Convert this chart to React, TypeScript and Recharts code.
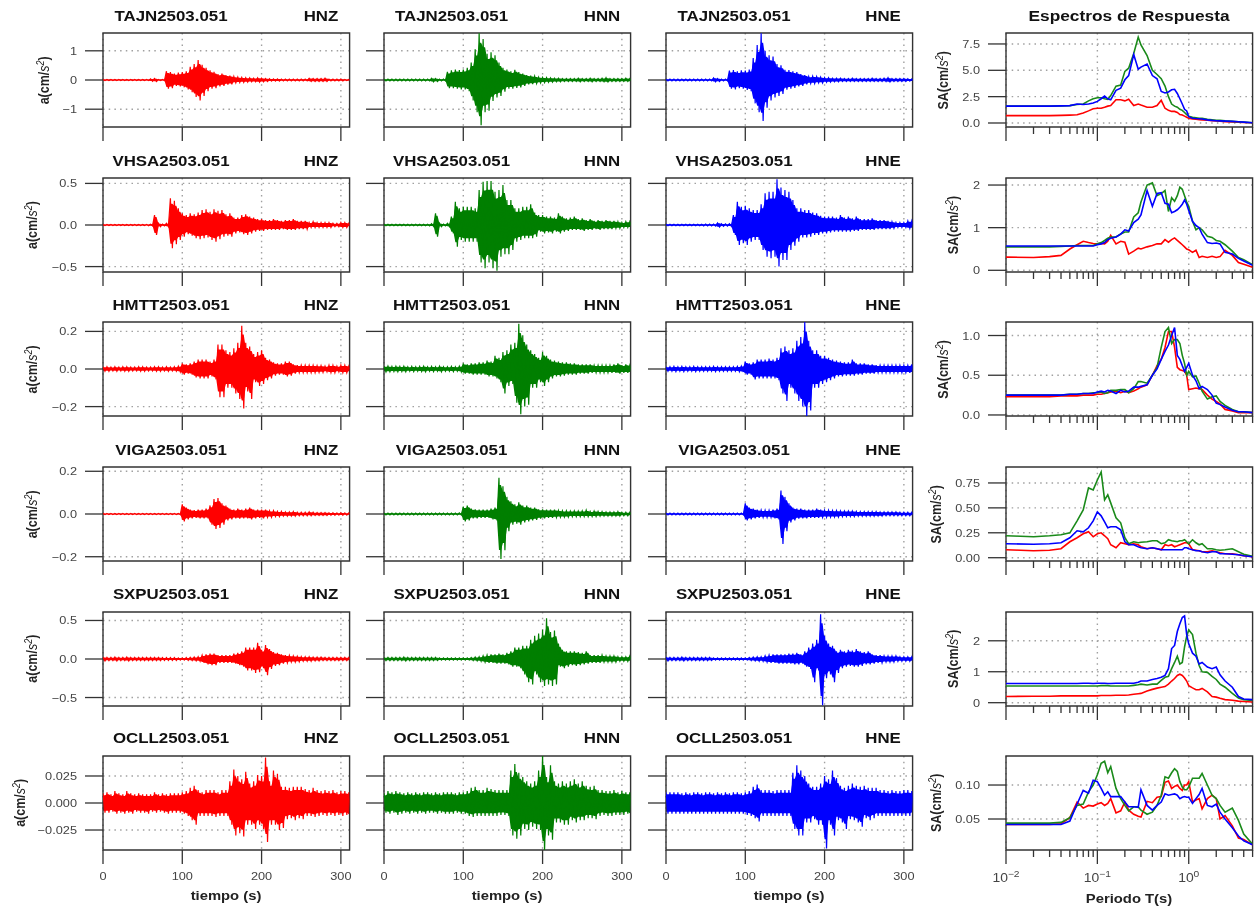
import { ComposedChart, LineChart, Line, Area, XAxis, YAxis, CartesianGrid, ReferenceArea } from 'recharts'

// time grid of the envelope readings (s); each reading holds the top and bottom of the trace
const sampleTimes = [0,5,10,15,20,25,30,35,40,45,50,55,60,65,70,75,80,85,90,95,
  100,105,110,115,120,125,130,135,140,145,150,155,160,165,170,175,180,185,190,195,
  200,205,210,215,220,225,230,235,240,245,250,255,260,265,270,275,280,285,290,295,300,305,310]

const tajnZHi = [.02,.02,.02,.02,.02,.02,.02,.02,.02,.02,.02,.02,.04,.05,.02,.02,.3,.27,.22,.25,
  .27,.3,.45,.55,.68,.52,.42,.33,.28,.2,.22,.17,.15,.12,.1,.09,.08,.07,.06,.07,
  .06,.05,.04,.04,.04,.03,.03,.03,.03,.03,.03,.03,.06,.05,.05,.05,.06,.03,.03,.03,.03,.02,.02]
const tajnZLo = [-.02,-.02,-.02,-.02,-.02,-.02,-.02,-.02,-.02,-.02,-.02,-.02,-.04,-.05,-.02,-.02,-.3,-.28,-.2,-.22,
  -.25,-.32,-.42,-.58,-.7,-.55,-.38,-.3,-.28,-.22,-.2,-.16,-.15,-.1,-.09,-.08,-.07,-.06,-.06,-.07,
  -.06,-.05,-.04,-.04,-.04,-.03,-.03,-.03,-.03,-.03,-.03,-.03,-.05,-.05,-.05,-.05,-.05,-.03,-.03,-.03,-.03,-.02,-.02]
const tajnNHi = [.03,.03,.03,.03,.03,.03,.03,.03,.03,.03,.03,.03,.06,.05,.03,.03,.28,.33,.36,.34,
  .36,.42,.6,1.05,1.6,1.4,.9,.95,.85,.6,.42,.36,.3,.35,.27,.22,.17,.15,.13,.1,
  .09,.08,.07,.06,.06,.05,.05,.05,.05,.06,.05,.05,.06,.05,.05,.06,.08,.05,.05,.05,.05,.06,.05]
const tajnNLo = [-.03,-.03,-.03,-.03,-.03,-.03,-.03,-.03,-.03,-.03,-.03,-.03,-.06,-.05,-.03,-.03,-.28,-.28,-.3,-.32,
  -.32,-.38,-.7,-1.1,-1.55,-1.1,-1.05,-.72,-.6,-.55,-.4,-.3,-.3,-.27,-.25,-.2,-.15,-.14,-.12,-.1,
  -.09,-.08,-.07,-.06,-.06,-.05,-.05,-.05,-.05,-.06,-.05,-.05,-.06,-.05,-.05,-.06,-.07,-.05,-.05,-.05,-.05,-.05,-.05]
const tajnEHi = [.03,.03,.03,.03,.03,.03,.03,.03,.03,.03,.03,.03,.07,.05,.03,.03,.32,.34,.3,.33,
  .32,.36,.75,1.2,1.6,1.0,.85,.8,.55,.5,.35,.34,.3,.27,.2,.17,.12,.13,.12,.1,
  .08,.08,.06,.06,.06,.05,.05,.06,.05,.05,.05,.05,.06,.05,.05,.06,.08,.05,.05,.05,.05,.04,.04]
const tajnELo = [-.03,-.03,-.03,-.03,-.03,-.03,-.03,-.03,-.03,-.03,-.03,-.03,-.06,-.05,-.03,-.03,-.3,-.32,-.28,-.3,
  -.34,-.38,-.8,-1.1,-1.4,-.95,-.7,-.6,-.55,-.48,-.33,-.3,-.27,-.22,-.2,-.15,-.12,-.12,-.1,-.1,
  -.08,-.07,-.06,-.06,-.05,-.05,-.05,-.05,-.05,-.05,-.05,-.05,-.05,-.05,-.05,-.05,-.07,-.05,-.05,-.05,-.05,-.04,-.04]

const vhsaZHi = [.006,.006,.006,.006,.006,.006,.006,.006,.006,.006,.006,.008,.01,.12,.02,.01,.02,.32,.29,.2,
  .14,.12,.14,.13,.15,.18,.19,.16,.19,.17,.18,.13,.14,.09,.09,.12,.13,.1,.09,.07,
  .07,.06,.06,.07,.06,.05,.06,.06,.07,.05,.05,.05,.03,.04,.03,.03,.03,.03,.02,.02,.03,.03,.02]
const vhsaZLo = [-.006,-.006,-.006,-.006,-.006,-.006,-.006,-.006,-.006,-.006,-.006,-.008,-.01,-.12,-.02,-.01,-.02,-.28,-.23,-.18,
  -.14,-.11,-.13,-.16,-.17,-.16,-.15,-.18,-.2,-.17,-.14,-.13,-.14,-.1,-.09,-.11,-.12,-.1,-.08,-.07,
  -.07,-.06,-.06,-.06,-.06,-.05,-.06,-.06,-.06,-.05,-.05,-.05,-.03,-.03,-.03,-.03,-.03,-.03,-.02,-.02,-.03,-.03,-.02]
const vhsaNHi = [.01,.01,.01,.01,.01,.01,.01,.01,.01,.01,.01,.01,.015,.14,.02,.01,.02,.1,.28,.2,
  .22,.22,.22,.2,.42,.52,.53,.53,.4,.42,.48,.3,.3,.2,.2,.22,.22,.25,.15,.12,
  .12,.1,.1,.09,.14,.1,.08,.09,.1,.07,.08,.06,.07,.05,.06,.05,.06,.05,.05,.04,.03,.04,.04]
const vhsaNLo = [-.01,-.01,-.01,-.01,-.01,-.01,-.01,-.01,-.01,-.01,-.01,-.01,-.015,-.14,-.02,-.01,-.02,-.1,-.26,-.18,
  -.2,-.2,-.2,-.2,-.45,-.52,-.45,-.52,-.55,-.38,-.35,-.35,-.3,-.2,-.18,-.16,-.16,-.16,-.14,-.08,
  -.1,-.09,-.1,-.08,-.1,-.08,-.07,-.06,-.06,-.06,-.07,-.06,-.06,-.05,-.06,-.05,-.05,-.05,-.04,-.04,-.03,-.03,-.03]
const vhsaEHi = [.01,.01,.01,.01,.01,.01,.01,.01,.01,.01,.012,.012,.012,.025,.015,.012,.015,.12,.28,.22,
  .23,.2,.18,.18,.25,.38,.4,.4,.55,.45,.42,.4,.3,.2,.2,.18,.18,.15,.14,.11,
  .1,.1,.1,.09,.12,.09,.1,.08,.1,.07,.07,.07,.08,.06,.06,.06,.05,.04,.03,.03,.03,.05,.05]
const vhsaELo = [-.01,-.01,-.01,-.01,-.01,-.01,-.01,-.01,-.01,-.01,-.012,-.012,-.012,-.025,-.015,-.012,-.015,-.12,-.24,-.22,
  -.24,-.2,-.18,-.18,-.3,-.38,-.4,-.38,-.5,-.42,-.42,-.3,-.25,-.2,-.15,-.15,-.14,-.12,-.12,-.1,
  -.1,-.09,-.08,-.08,-.08,-.08,-.08,-.07,-.07,-.06,-.06,-.06,-.06,-.05,-.05,-.05,-.05,-.04,-.03,-.03,-.03,-.04,-.04]

const hmttZHi = [.012,.012,.01,.012,.01,.012,.012,.01,.01,.012,.012,.01,.01,.012,.012,.01,.012,.01,.012,.015,
  .03,.025,.03,.04,.05,.05,.05,.04,.05,.13,.13,.1,.09,.11,.14,.23,.14,.12,.08,.09,
  .1,.06,.05,.035,.03,.03,.04,.04,.025,.02,.02,.02,.02,.02,.018,.018,.015,.02,.02,.015,.02,.02,.015]
const hmttZLo = [-.012,-.012,-.01,-.012,-.01,-.012,-.012,-.01,-.01,-.012,-.012,-.01,-.01,-.012,-.012,-.01,-.012,-.01,-.012,-.015,
  -.03,-.025,-.03,-.045,-.05,-.05,-.05,-.04,-.055,-.15,-.15,-.1,-.1,-.13,-.16,-.21,-.12,-.16,-.07,-.09,
  -.08,-.06,-.05,-.035,-.03,-.03,-.04,-.035,-.025,-.02,-.02,-.02,-.02,-.02,-.018,-.018,-.015,-.02,-.02,-.015,-.02,-.02,-.015]
const hmttNHi = [.015,.015,.014,.015,.014,.015,.012,.014,.012,.014,.015,.012,.014,.012,.015,.012,.012,.014,.012,.015,
  .03,.025,.03,.03,.035,.035,.045,.04,.07,.06,.09,.1,.13,.14,.24,.18,.13,.1,.08,.06,
  .09,.07,.05,.045,.04,.035,.035,.03,.03,.025,.025,.025,.025,.02,.02,.02,.02,.02,.025,.03,.02,.025,.02]
const hmttNLo = [-.015,-.015,-.014,-.015,-.014,-.015,-.012,-.014,-.012,-.014,-.015,-.012,-.014,-.012,-.015,-.012,-.012,-.014,-.012,-.015,
  -.025,-.025,-.03,-.03,-.03,-.03,-.04,-.04,-.05,-.07,-.13,-.09,-.08,-.18,-.24,-.2,-.19,-.1,-.1,-.07,
  -.09,-.07,-.05,-.04,-.04,-.035,-.03,-.03,-.03,-.025,-.025,-.025,-.02,-.02,-.02,-.02,-.02,-.02,-.02,-.025,-.02,-.02,-.02]
const hmttEHi = [.012,.012,.014,.012,.014,.012,.012,.014,.012,.012,.012,.012,.014,.012,.012,.012,.012,.012,.014,.016,
  .04,.03,.035,.05,.05,.05,.055,.05,.06,.11,.12,.1,.11,.15,.17,.25,.15,.1,.1,.07,
  .07,.06,.05,.045,.04,.035,.035,.05,.03,.03,.03,.025,.025,.02,.02,.02,.02,.02,.02,.02,.02,.02,.025]
const hmttELo = [-.012,-.012,-.014,-.012,-.014,-.012,-.012,-.014,-.012,-.012,-.012,-.012,-.014,-.012,-.012,-.012,-.012,-.012,-.014,-.016,
  -.03,-.03,-.055,-.05,-.05,-.05,-.05,-.05,-.06,-.13,-.17,-.1,-.13,-.17,-.2,-.25,-.22,-.1,-.1,-.08,
  -.07,-.06,-.05,-.04,-.04,-.035,-.035,-.035,-.03,-.03,-.025,-.025,-.025,-.02,-.02,-.02,-.02,-.02,-.02,-.02,-.02,-.02,-.02]

const vigaZHi = [.003,.003,.003,.003,.003,.003,.003,.003,.003,.003,.003,.003,.003,.003,.003,.003,.003,.003,.003,.003,
  .045,.03,.02,.018,.02,.02,.025,.04,.07,.075,.05,.04,.025,.02,.025,.02,.025,.03,.02,.02,
  .02,.02,.015,.015,.012,.012,.01,.01,.012,.008,.008,.008,.01,.008,.007,.007,.007,.006,.006,.005,.006,.005,.005]
const vigaZLo = [-.003,-.003,-.003,-.003,-.003,-.003,-.003,-.003,-.003,-.003,-.003,-.003,-.003,-.003,-.003,-.003,-.003,-.003,-.003,-.003,
  -.035,-.025,-.02,-.018,-.02,-.02,-.02,-.05,-.07,-.065,-.05,-.03,-.025,-.02,-.022,-.02,-.02,-.025,-.02,-.018,
  -.02,-.015,-.015,-.012,-.012,-.01,-.01,-.01,-.01,-.008,-.008,-.008,-.008,-.007,-.007,-.007,-.007,-.006,-.006,-.005,-.006,-.005,-.005]
const vigaNHi = [.004,.004,.004,.004,.004,.004,.004,.004,.004,.004,.004,.004,.004,.004,.004,.004,.004,.004,.004,.005,
  .035,.04,.025,.022,.02,.02,.02,.025,.03,.17,.13,.08,.06,.045,.055,.04,.04,.03,.03,.022,
  .022,.02,.02,.02,.017,.015,.015,.014,.015,.014,.015,.018,.012,.014,.012,.012,.01,.01,.01,.012,.008,.008,.008]
const vigaNLo = [-.004,-.004,-.004,-.004,-.004,-.004,-.004,-.004,-.004,-.004,-.004,-.004,-.004,-.004,-.004,-.004,-.004,-.004,-.004,-.005,
  -.035,-.03,-.02,-.02,-.018,-.018,-.018,-.025,-.03,-.21,-.17,-.08,-.05,-.045,-.05,-.04,-.035,-.03,-.028,-.022,
  -.02,-.018,-.018,-.016,-.015,-.014,-.014,-.012,-.012,-.012,-.012,-.012,-.012,-.012,-.01,-.01,-.01,-.01,-.01,-.01,-.008,-.008,-.008]
const vigaEHi = [.004,.004,.004,.004,.004,.004,.004,.004,.004,.004,.004,.004,.004,.004,.004,.004,.004,.004,.004,.004,
  .05,.03,.025,.02,.018,.018,.018,.02,.025,.11,.08,.05,.03,.025,.025,.02,.02,.02,.025,.02,
  .018,.018,.016,.016,.015,.014,.014,.014,.012,.012,.012,.012,.012,.012,.01,.01,.01,.01,.01,.008,.008,.008,.008]
const vigaELo = [-.004,-.004,-.004,-.004,-.004,-.004,-.004,-.004,-.004,-.004,-.004,-.004,-.004,-.004,-.004,-.004,-.004,-.004,-.004,-.004,
  -.03,-.025,-.02,-.018,-.016,-.016,-.016,-.02,-.025,-.14,-.08,-.04,-.03,-.022,-.02,-.02,-.018,-.018,-.018,-.016,
  -.015,-.015,-.014,-.014,-.012,-.012,-.012,-.012,-.01,-.01,-.01,-.01,-.01,-.01,-.01,-.008,-.008,-.008,-.008,-.008,-.008,-.008,-.008]

const sxpuZHi = [.025,.02,.02,.025,.02,.02,.025,.02,.02,.02,.02,.02,.02,.02,.02,.018,.018,.018,.018,.015,
  .015,.018,.02,.025,.03,.05,.06,.07,.07,.05,.05,.05,.05,.07,.08,.1,.15,.15,.15,.21,
  .12,.18,.13,.09,.08,.06,.05,.045,.04,.035,.03,.03,.03,.025,.025,.025,.02,.02,.02,.02,.02,.02,.02]
const sxpuZLo = [-.025,-.02,-.02,-.025,-.02,-.02,-.025,-.02,-.02,-.02,-.02,-.02,-.02,-.02,-.02,-.018,-.018,-.018,-.018,-.015,
  -.015,-.018,-.02,-.025,-.03,-.05,-.07,-.08,-.08,-.05,-.05,-.05,-.05,-.06,-.08,-.1,-.15,-.15,-.18,-.17,
  -.12,-.21,-.13,-.09,-.08,-.06,-.05,-.04,-.04,-.035,-.03,-.03,-.03,-.025,-.025,-.02,-.02,-.02,-.02,-.02,-.02,-.02,-.02]
const sxpuNHi = [.02,.02,.02,.02,.02,.025,.02,.02,.02,.02,.02,.02,.02,.02,.015,.015,.015,.015,.015,.015,
  .015,.015,.02,.025,.03,.04,.05,.06,.06,.07,.06,.08,.1,.15,.15,.17,.17,.25,.3,.33,
  .38,.53,.35,.37,.2,.12,.1,.1,.1,.09,.08,.1,.05,.05,.05,.05,.04,.04,.04,.03,.03,.03,.04]
const sxpuNLo = [-.02,-.02,-.02,-.02,-.02,-.025,-.02,-.02,-.02,-.02,-.02,-.02,-.02,-.02,-.015,-.015,-.015,-.015,-.015,-.015,
  -.015,-.015,-.02,-.025,-.03,-.04,-.05,-.05,-.06,-.06,-.06,-.07,-.1,-.1,-.12,-.2,-.3,-.33,-.2,-.3,
  -.35,-.33,-.35,-.33,-.1,-.12,-.1,-.08,-.09,-.08,-.07,-.06,-.05,-.05,-.05,-.04,-.04,-.04,-.04,-.03,-.03,-.03,-.03]
const sxpuEHi = [.025,.02,.02,.02,.025,.02,.02,.02,.02,.02,.02,.02,.015,.015,.015,.015,.015,.015,.015,.015,
  .015,.02,.025,.03,.03,.04,.05,.06,.06,.06,.06,.07,.07,.08,.06,.1,.15,.2,.25,.58,
  .3,.2,.17,.1,.12,.1,.12,.11,.13,.1,.09,.1,.06,.05,.05,.04,.04,.04,.04,.03,.03,.03,.03]
const sxpuELo = [-.025,-.02,-.02,-.02,-.025,-.02,-.02,-.02,-.02,-.02,-.02,-.02,-.015,-.015,-.015,-.015,-.015,-.015,-.015,-.015,
  -.015,-.02,-.025,-.03,-.03,-.04,-.05,-.05,-.06,-.06,-.06,-.06,-.07,-.07,-.06,-.1,-.13,-.3,-.15,-.6,
  -.25,-.2,-.3,-.18,-.12,-.1,-.09,-.1,-.1,-.09,-.07,-.07,-.06,-.05,-.05,-.04,-.04,-.04,-.03,-.03,-.03,-.03,-.03]

const ocllZHi = [.009,.01,.008,.011,.009,.008,.011,.009,.008,.009,.008,.008,.008,.01,.008,.009,.008,.009,.009,.009,
  .01,.011,.014,.016,.012,.01,.012,.012,.012,.01,.012,.012,.02,.031,.025,.022,.029,.018,.02,.026,
  .025,.042,.02,.03,.027,.015,.015,.014,.015,.015,.015,.013,.012,.014,.012,.011,.012,.011,.012,.01,.011,.011,.01]
const ocllZLo = [-.009,-.009,-.008,-.01,-.009,-.01,-.009,-.01,-.008,-.009,-.009,-.01,-.008,-.009,-.008,-.009,-.01,-.009,-.009,-.009,
  -.01,-.012,-.016,-.02,-.012,-.012,-.012,-.012,-.013,-.012,-.012,-.012,-.02,-.03,-.028,-.031,-.02,-.02,-.024,-.02,
  -.024,-.036,-.02,-.02,-.025,-.023,-.015,-.014,-.016,-.014,-.015,-.012,-.012,-.013,-.012,-.011,-.012,-.011,-.012,-.011,-.012,-.011,-.013]
const ocllNHi = [.009,.011,.01,.011,.01,.009,.01,.009,.01,.009,.01,.01,.009,.01,.009,.01,.01,.01,.009,.01,
  .01,.011,.014,.015,.012,.012,.014,.013,.012,.012,.012,.012,.03,.036,.028,.024,.02,.018,.02,.03,
  .044,.024,.035,.02,.018,.02,.018,.02,.022,.018,.02,.016,.015,.016,.012,.012,.011,.011,.012,.01,.011,.01,.01]
const ocllNLo = [-.009,-.01,-.009,-.011,-.01,-.009,-.01,-.009,-.01,-.009,-.01,-.009,-.009,-.01,-.009,-.01,-.01,-.01,-.009,-.01,
  -.01,-.012,-.013,-.012,-.012,-.012,-.012,-.012,-.012,-.011,-.011,-.012,-.03,-.033,-.03,-.024,-.025,-.022,-.024,-.025,
  -.044,-.03,-.034,-.018,-.018,-.02,-.02,-.016,-.018,-.016,-.016,-.014,-.014,-.015,-.012,-.011,-.012,-.012,-.011,-.011,-.011,-.01,-.012]
const ocllEHi = [.01,.01,.01,.01,.009,.01,.009,.01,.01,.009,.01,.01,.009,.01,.009,.01,.009,.01,.01,.009,
  .01,.011,.015,.017,.012,.012,.012,.011,.012,.012,.012,.012,.028,.035,.03,.025,.018,.015,.015,.018,
  .025,.022,.03,.023,.016,.014,.016,.018,.016,.015,.016,.014,.014,.014,.012,.012,.011,.012,.011,.011,.012,.012,.011]
const ocllELo = [-.01,-.01,-.01,-.01,-.01,-.01,-.01,-.01,-.01,-.01,-.01,-.01,-.01,-.01,-.01,-.01,-.01,-.01,-.01,-.01,
  -.011,-.012,-.014,-.017,-.012,-.012,-.012,-.012,-.012,-.012,-.012,-.012,-.024,-.03,-.03,-.018,-.018,-.015,-.02,-.02,
  -.042,-.02,-.03,-.016,-.018,-.024,-.015,-.016,-.018,-.022,-.014,-.016,-.014,-.012,-.012,-.012,-.012,-.012,-.012,-.012,-.012,-.012,-.011]

// period grid of the response spectra (s)
const periods = [.01,.02,.03,.04,.05,.06,.07,.08,.09,.1,.11,.12,.13,.14,.16,.18,.2,.22,.25,.28,
  .3,.35,.4,.45,.5,.55,.6,.65,.7,.75,.8,.85,.9,.95,1,1.1,1.2,1.3,1.4,1.6,1.8,2,2.2,2.5,3,3.5,4,5]

const tajnSaZ = [.7,.7,.7,.72,.75,.78,.95,1.15,1.35,1.4,1.4,1.5,1.6,1.65,2.2,2.2,2.1,2.25,1.65,1.8,
  1.7,1.5,1.5,1.65,2.15,1.4,1.2,1.1,1.1,1,.8,.75,.65,.55,.45,.38,.35,.32,.3,.27,.22,.2,.18,.12,.1,.08,.05,.02]
const tajnSaN = [1.6,1.6,1.6,1.62,1.65,1.75,1.8,2.1,2.3,2.4,2.4,2.3,2.25,2.6,3.5,3.6,4.9,5.2,6.6,8.15,
  7.4,6.4,5,4.6,4.2,3.5,2.5,1.8,1.6,1.5,1.3,1.2,1,.8,.65,.55,.5,.45,.45,.35,.3,.25,.25,.2,.15,.12,.08,.03]
const tajnSaE = [1.6,1.6,1.6,1.62,1.65,1.8,1.75,1.8,1.9,2.05,2.3,2.55,2.3,2.2,3.1,3.3,4.1,4.5,6.5,5.1,
  5.3,5.6,4.5,4.2,3,2.85,2.95,3.15,3.2,2.8,2.3,1.8,1.3,1.15,.6,.45,.42,.4,.38,.3,.25,.22,.2,.18,.15,.12,.08,.03]
const vhsaSaZ = [.31,.3,.32,.35,.5,.6,.68,.65,.63,.62,.63,.62,.68,.82,.62,.68,.66,.38,.45,.52,
  .5,.55,.58,.62,.62,.72,.66,.72,.76,.7,.65,.6,.55,.5,.48,.42,.47,.3,.33,.3,.33,.3,.32,.47,.35,.18,.14,.07]
const vhsaSaN = [.55,.55,.55,.56,.57,.58,.58,.58,.58,.62,.65,.7,.75,.78,.78,.85,.9,.9,1.25,1.35,
  1.6,2,2.05,1.75,1.8,1.87,1.38,1.7,1.62,1.75,1.95,1.9,1.75,1.6,1.5,1.15,.95,1,.95,.8,.77,.7,.68,.6,.45,.3,.25,.13]
const vhsaSaE = [.57,.57,.57,.57,.57,.57,.57,.57,.57,.6,.62,.65,.72,.75,.78,.85,.95,.92,1.12,1.2,
  1.3,1.87,1.5,1.8,1.82,1.57,1.55,1.35,1.38,1.42,1.48,1.55,1.65,1.55,1.4,1.15,1.05,1,.85,.65,.63,.64,.62,.42,.38,.28,.22,.12]
const hmttSaZ = [.23,.23,.23,.24,.24,.24,.25,.25,.25,.26,.26,.27,.28,.29,.3,.28,.3,.28,.3,.33,
  .35,.38,.5,.62,.7,.85,1.05,1.05,.85,.6,.57,.56,.55,.5,.32,.33,.34,.33,.32,.25,.2,.17,.14,.07,.05,.03,.03,.03]
const hmttSaN = [.25,.25,.25,.25,.26,.26,.27,.27,.28,.28,.29,.27,.28,.31,.31,.32,.32,.28,.33,.42,
  .42,.4,.5,.6,.85,1.05,1.1,.9,.95,.95,.9,.75,.65,.5,.55,.48,.49,.4,.3,.2,.23,.24,.17,.12,.07,.04,.04,.03]
const hmttSaE = [.25,.25,.25,.25,.26,.26,.27,.27,.27,.29,.3,.29,.31,.3,.27,.31,.29,.3,.35,.35,
  .36,.38,.5,.58,.7,.8,.88,1,1.1,.75,.7,.62,.55,.6,.65,.5,.43,.33,.36,.32,.25,.15,.13,.1,.06,.04,.04,.03]
const vigaSaZ = [.08,.07,.075,.09,.16,.2,.24,.26,.21,.24,.25,.22,.19,.13,.1,.15,.14,.13,.14,.13,
  .11,.09,.1,.09,.08,.13,.12,.13,.11,.12,.13,.14,.15,.15,.14,.08,.075,.07,.06,.06,.07,.06,.05,.04,.04,.03,.02,.01]
const vigaSaN = [.22,.21,.22,.23,.25,.37,.48,.7,.68,.78,.86,.58,.63,.55,.4,.35,.2,.14,.16,.15,
  .155,.16,.17,.17,.14,.15,.18,.17,.165,.16,.17,.17,.18,.16,.14,.18,.15,.13,.14,.09,.09,.08,.075,.08,.09,.06,.035,.015]
const vigaSaE = [.14,.135,.14,.15,.2,.27,.26,.3,.37,.46,.42,.36,.3,.31,.31,.28,.16,.13,.13,.11,
  .1,.09,.1,.09,.08,.08,.08,.08,.08,.08,.08,.08,.1,.1,.09,.08,.07,.07,.06,.05,.06,.06,.04,.04,.035,.03,.02,.01]
const sxpuSaZ = [.2,.21,.21,.22,.22,.22,.22,.22,.22,.22,.23,.23,.23,.23,.24,.24,.24,.25,.27,.29,
  .3,.38,.43,.47,.5,.52,.6,.7,.78,.88,.92,.88,.8,.7,.55,.48,.42,.42,.46,.35,.2,.18,.14,.1,.08,.05,.04,.02]
const sxpuSaN = [.54,.54,.54,.54,.54,.54,.54,.54,.54,.54,.55,.55,.55,.54,.54,.54,.54,.54,.56,.58,
  .6,.57,.6,.6,.72,.82,.85,1.1,1.3,1.5,1.25,1.3,1.8,2.15,2.35,2.2,1.6,1.2,1,.98,.85,.75,.6,.5,.3,.15,.1,.07]
const sxpuSaE = [.62,.62,.62,.62,.62,.62,.63,.63,.62,.63,.63,.63,.62,.62,.63,.63,.63,.63,.63,.66,
  .7,.7,.75,.78,.82,.88,1.1,1.75,1.85,2.3,2.55,2.75,2.8,2.2,1.9,1.6,1.5,1.25,1.3,1.15,1.1,1.15,.9,.7,.5,.2,.12,.1]
const ocllSaZ = [.042,.042,.042,.043,.052,.075,.066,.07,.069,.072,.074,.07,.073,.08,.059,.062,.075,.063,.057,.054,
  .053,.076,.074,.082,.083,.104,.106,.095,.098,.1,.095,.092,.1,.1,.105,.075,.078,.08,.065,.08,.085,.08,.05,.055,.04,.022,.02,.012]
const ocllSaN = [.044,.044,.044,.045,.052,.07,.072,.09,.1,.115,.132,.135,.118,.127,.095,.08,.07,.062,.068,.068,
  .063,.057,.06,.07,.085,.112,.11,.118,.124,.12,.105,.097,.093,.093,.097,.11,.11,.11,.117,.1,.085,.08,.07,.06,.066,.048,.028,.013]
const ocllSaE = [.042,.042,.042,.042,.047,.072,.092,.088,.107,.105,.095,.085,.09,.083,.083,.083,.075,.068,.068,.067,
  .093,.07,.063,.07,.075,.087,.085,.086,.087,.085,.08,.082,.083,.082,.082,.073,.08,.086,.095,.07,.068,.072,.06,.05,.037,.025,.018,.012]

const stations = ['TAJN2503.051', 'VHSA2503.051', 'HMTT2503.051', 'VIGA2503.051', 'SXPU2503.051', 'OCLL2503.051']
const channels = ['HNZ', 'HNN', 'HNE']

const traceHi = [[tajnZHi, tajnNHi, tajnEHi], [vhsaZHi, vhsaNHi, vhsaEHi], [hmttZHi, hmttNHi, hmttEHi],
  [vigaZHi, vigaNHi, vigaEHi], [sxpuZHi, sxpuNHi, sxpuEHi], [ocllZHi, ocllNHi, ocllEHi]]
const traceLo = [[tajnZLo, tajnNLo, tajnELo], [vhsaZLo, vhsaNLo, vhsaELo], [hmttZLo, hmttNLo, hmttELo],
  [vigaZLo, vigaNLo, vigaELo], [sxpuZLo, sxpuNLo, sxpuELo], [ocllZLo, ocllNLo, ocllELo]]
const spectra = [[tajnSaZ, tajnSaN, tajnSaE], [vhsaSaZ, vhsaSaN, vhsaSaE], [hmttSaZ, hmttSaN, hmttSaE],
  [vigaSaZ, vigaSaN, vigaSaE], [sxpuSaZ, sxpuSaN, sxpuSaE], [ocllSaZ, ocllSaN, ocllSaE]]

const traceTicks = [[-1, 0, 1], [-.5, 0, .5], [-.2, 0, .2], [-.2, 0, .2], [-.5, 0, .5], [-.025, 0, .025]]
const traceTickLabels = [['−1', '0', '1'], ['−0.5', '0.0', '0.5'], ['−0.2', '0.0', '0.2'], ['−0.2', '0.0', '0.2'],
  ['−0.5', '0.0', '0.5'], ['−0.025', '0.000', '0.025']]
const traceLimits = [1.61, .565, .25, .22, .61, .0435]

const saTicks = [[0, 2.5, 5, 7.5], [0, 1, 2], [0, .5, 1], [0, .25, .5, .75], [0, 1, 2], [.05, .1]]
const saTickLabels = [['0.0', '2.5', '5.0', '7.5'], ['0', '1', '2'], ['0.0', '0.5', '1.0'],
  ['0.00', '0.25', '0.50', '0.75'], ['0', '1', '2'], ['0.05', '0.10']]
const saDomains = [[-.38, 8.54], [-.04, 2.165], [-.013, 1.17], [-.033, .91], [-.107, 2.93], [.0044, .1427]]

const timeTicks = [0, 100, 200, 300]
const periodTicks = [.01,.02,.03,.04,.05,.06,.07,.08,.09,.1,.2,.3,.4,.5,.6,.7,.8,.9,1,2,3,4,5]
const periodMajor = [.01, .1, 1]
const periodMajorLabels = ['−2', '−1', '0']

const colors = ['#ff0000', '#007f00', '#0000ff']
const saColors = ['#ff0000', '#1a8a1a', '#0000ff']

// layout
const colX = [102.7, 383.7, 665.7, 1006]
const rowY = [33.3, 178, 322.4, 467.3, 611.7, 755.8]
const boxW = 246.6
const boxH = 94
const gutter = 84
const titleY = [21, 165.5, 310, 454.5, 599, 743]
const nameX = [171, 451.5, 734]
const chanX = [321, 602, 883]
const traceLabelX = [49, 37, 37, 37, 37, 25]
const saLabelX = [948, 958, 948, 941, 958, 941]
const FONT = '"Liberation Sans", Arial, sans-serif'
const AXIS = '#333333'
const STRETCH = 1.14
const CORE = 0.8 // solid part of the envelope, the zigzag reaches the full height

function Str({ x, y, size, bold, fill, anchor, children }: any) {
  return (
    <text transform={`translate(${x} ${y}) scale(${STRETCH} 1)`} fontFamily={FONT} fontSize={size}
      fontWeight={bold ? 700 : 400} fill={fill} textAnchor={anchor}>
      {children}
    </text>
  )
}

function YLabel({ x, y, name }: any) {
  return (
    <text transform={`translate(${x} ${y}) rotate(-90) scale(1 ${STRETCH})`} fontFamily={FONT} fontSize={12.5}
      fontWeight={700} fill="#222" textAnchor="middle">
      {name}(cm/<tspan fontStyle="italic" fontWeight={400}>s</tspan>
      <tspan dy={-4} fontSize={9} fontWeight={400} fontStyle="italic">2</tspan><tspan dy={4}>)</tspan>
    </text>
  )
}

const yTick = (ticks: number[], labels: string[] | null) => ({ x, y, payload }: any) => {
  if (!labels) return <g />
  return <Str x={x} y={y + 4} size={11.2} fill="#444" anchor="end">{labels[ticks.indexOf(payload.value)]}</Str>
}

const timeTick = (show: boolean) => ({ x, y, payload }: any) => {
  if (!show) return <g />
  return <Str x={x} y={y + 16} size={11.2} fill="#444" anchor="middle">{payload.value}</Str>
}

const periodTick = (show: boolean) => ({ x, y, payload }: any) => {
  const k = periodMajor.indexOf(payload.value)
  return (
    <g>
      <line x1={x} x2={x} y1={y} y2={y + (k >= 0 ? 14 : 7)} stroke={AXIS} strokeWidth={1.3} />
      {show && k >= 0 && (
        <text transform={`translate(${x} ${y + 32}) scale(${STRETCH} 1)`} fontFamily={FONT} fontSize={12.2} fill="#444" textAnchor="middle">
          10<tspan dy={-5} fontSize={9}>{periodMajorLabels[k]}</tspan>
        </text>
      )}
    </g>
  )
}

function TracePanel({ row, col }: any) {
  const lim = traceLimits[row]
  const ticks = traceTicks[row]
  const lo = traceLo[row][col]
  const data = traceHi[row][col].flatMap((v: number, i: number) => {
    const band = [lo[i] * CORE, v * CORE]
    return [
      { t: sampleTimes[i], a: v, band },
      { t: sampleTimes[i] + 2.5, a: lo[i], band },
    ]
  })
  return (
    <div style={{ position: 'absolute', left: colX[col] - gutter, top: rowY[row] - 4 }}>
      <ComposedChart width={gutter + boxW + 4} height={boxH + 44} data={data} margin={{ top: 4, right: 4, left: 0, bottom: 0 }}>
        <CartesianGrid stroke="#a0a0a0" strokeWidth={1.4} strokeDasharray="1.5 4.2" verticalValues={timeTicks} horizontalValues={ticks} />
        <XAxis dataKey="t" type="number" domain={[0, 311]} ticks={timeTicks} interval={0} allowDataOverflow height={40}
          axisLine={false} tickSize={14} tickMargin={0} tickLine={{ stroke: AXIS, strokeWidth: 1.3 }} tick={timeTick(row === 5)} />
        <YAxis type="number" domain={[-lim, lim]} ticks={ticks} interval={0} allowDataOverflow width={gutter}
          axisLine={false} tickSize={18} tickMargin={8} tickLine={{ stroke: AXIS, strokeWidth: 1.3 }}
          tick={yTick(ticks, col === 0 ? traceTickLabels[row] : null)} />
        <Area dataKey="band" fill={colors[col]} fillOpacity={1} stroke="none" dot={false} isAnimationActive={false} />
        <Line dataKey="a" stroke={colors[col]} strokeWidth={1.2} dot={false} isAnimationActive={false} />
        <ReferenceArea x1={0} x2={311} y1={-lim} y2={lim} fill="none" stroke={AXIS} strokeWidth={1.4} />
      </ComposedChart>
    </div>
  )
}

function SpectrumPanel({ row }: any) {
  const [z, n, e] = spectra[row]
  const data = periods.map((T, i) => ({ T, z: z[i], n: n[i], e: e[i] }))
  const domain = saDomains[row]
  const ticks = saTicks[row]
  return (
    <div style={{ position: 'absolute', left: colX[3] - gutter, top: rowY[row] - 4 }}>
      <LineChart width={gutter + boxW + 3} height={boxH + 44} data={data} margin={{ top: 4, right: 3, left: 0, bottom: 0 }}>
        <CartesianGrid stroke="#a0a0a0" strokeWidth={1.4} strokeDasharray="1.5 4.2" verticalValues={periodMajor} horizontalValues={ticks} />
        <XAxis dataKey="T" type="number" scale="log" domain={[.01, 5]} ticks={periodTicks} interval={0} allowDataOverflow height={40}
          axisLine={false} tickSize={0} tickMargin={0} tickLine={false} tick={periodTick(row === 5)} />
        <YAxis type="number" domain={domain} ticks={ticks} interval={0} allowDataOverflow width={gutter}
          axisLine={false} tickSize={18} tickMargin={8} tickLine={{ stroke: AXIS, strokeWidth: 1.3 }}
          tick={yTick(ticks, saTickLabels[row])} />
        <Line dataKey="z" stroke={saColors[0]} strokeWidth={1.6} dot={false} isAnimationActive={false} />
        <Line dataKey="n" stroke={saColors[1]} strokeWidth={1.6} dot={false} isAnimationActive={false} />
        <Line dataKey="e" stroke={saColors[2]} strokeWidth={1.6} dot={false} isAnimationActive={false} />
        <ReferenceArea x1={.01} x2={5} y1={domain[0]} y2={domain[1]} fill="none" stroke={AXIS} strokeWidth={1.4} />
      </LineChart>
    </div>
  )
}

export default function App() {
  return (
    <div style={{ position: 'absolute', left: 0, top: 0, width: 1256, height: 909, background: '#fff', overflow: 'hidden', filter: 'blur(0.35px)' }}>
      <svg width={1256} height={909} style={{ position: 'absolute', left: 0, top: 0 }}>
        {stations.map((name, r) => (
          <g key={name}>
            {channels.map((ch, c) => (
              <g key={ch}>
                <Str x={nameX[c]} y={titleY[r]} size={14.8} bold fill="#111" anchor="middle">{name}</Str>
                <Str x={chanX[c]} y={titleY[r]} size={14.8} bold fill="#111" anchor="middle">{ch}</Str>
              </g>
            ))}
            <YLabel x={traceLabelX[r]} y={rowY[r] + boxH / 2} name="a" />
            <YLabel x={saLabelX[r]} y={rowY[r] + boxH / 2} name="SA" />
          </g>
        ))}
        <Str x={1129} y={21} size={15.2} bold fill="#111" anchor="middle">Espectros de Respuesta</Str>
        {colX.slice(0, 3).map(x => (
          <Str key={x} x={x + boxW / 2} y={900} size={13} bold fill="#222" anchor="middle">tiempo (s)</Str>
        ))}
        <Str x={1129} y={903} size={13} bold fill="#222" anchor="middle">Periodo T(s)</Str>
      </svg>
      {stations.map((name, r) => (
        <div key={name}>
          {channels.map((ch, c) => <TracePanel key={ch} row={r} col={c} />)}
          <SpectrumPanel row={r} />
        </div>
      ))}
    </div>
  )
}
